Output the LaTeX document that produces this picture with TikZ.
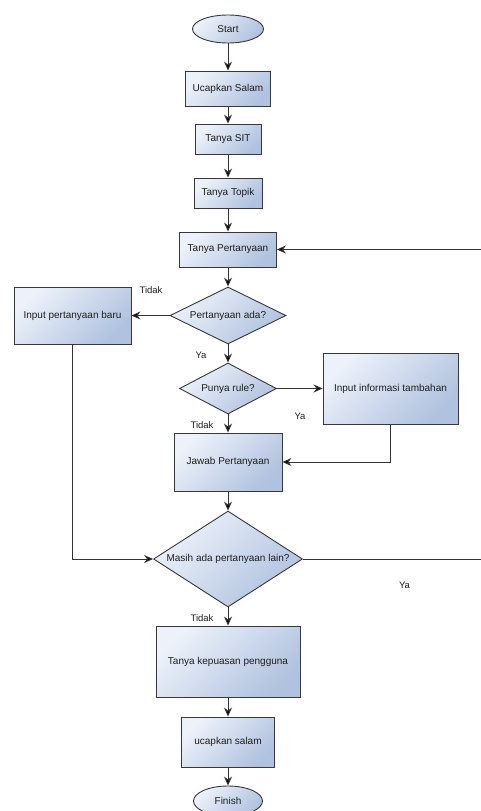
\documentclass[tikz,border=0pt]{standalone}
\usepackage{fontspec}
\setmainfont{Liberation Sans}
\usetikzlibrary{shapes.geometric,arrows.meta}
\definecolor{fillA}{HTML}{EDF2FA}
\definecolor{fillB}{HTML}{B0C2DF}
\definecolor{edge}{HTML}{383838}
\definecolor{wire}{HTML}{333333}
\definecolor{ink}{HTML}{1E1E1E}
\begin{document}
\begin{tikzpicture}[x=1pt,y=-1pt,
  every node/.style={font=\fontsize{10}{12}\selectfont, text=ink, inner sep=0pt},
  shaded/.style={draw=edge, line width=0.9pt, top color=fillA, bottom color=fillB, shading angle=45},
  procbox/.style={shaded, rectangle},
  decision/.style={shaded, diamond, aspect=1.8},
  term/.style={shaded, ellipse},
  lbl/.style={font=\fontsize{9.5}{11}\selectfont},
  arrow/.style={draw=wire, line width=0.9pt, -{Stealth[length=9pt,width=8pt,inset=3pt,fill=black]}}
]
\useasboundingbox (0,0) rectangle (480,811);
\fill[white] (0,0) rectangle (480,811);

\node[term, minimum width=71pt, minimum height=28pt] (start) at (228,29) {Start};
\node[procbox, minimum width=85pt, minimum height=35pt] (salam1) at (228,88.5) {Ucapkan Salam};
\node[procbox, minimum width=66pt, minimum height=30pt] (sit) at (228,139) {Tanya SIT};
\node[procbox, minimum width=68pt, minimum height=30pt] (topik) at (228,193) {Tanya Topik};
\node[procbox, minimum width=97pt, minimum height=35pt] (tanya) at (228,249.5) {Tanya Pertanyaan};
\node[decision, minimum width=116pt, minimum height=57pt] (ada) at (228,315.5) {Pertanyaan ada?};
\node[procbox, minimum width=117pt, minimum height=57pt] (baru) at (72.5,315.5) {Input pertanyaan baru};
\node[decision, minimum width=97pt, minimum height=51pt] (rule) at (228,388.5) {Punya rule?};
\node[procbox, minimum width=135pt, minimum height=71pt] (info) at (390.5,388.5) {Input informasi tambahan};
\node[procbox, minimum width=108pt, minimum height=58pt] (jawab) at (228,462) {Jawab Pertanyaan};
\node[decision, minimum width=149pt, minimum height=96pt] (masih) at (228,559) {Masih ada pertanyaan lain?};
\node[procbox, minimum width=144pt, minimum height=71pt] (puas) at (228,661.5) {Tanya kepuasan pengguna};
\node[procbox, minimum width=93pt, minimum height=50pt] (salam2) at (228,742) {ucapkan salam};
\node[term, minimum width=69pt, minimum height=30pt] (finish) at (228,801) {Finish};

\coordinate (loopR) at (487,559);

\draw[arrow] (start) -- (salam1);
\draw[arrow] (salam1) -- (sit);
\draw[arrow] (sit) -- (topik);
\draw[arrow] (topik) -- (tanya);
\draw[arrow] (tanya) -- (ada);
\draw[arrow] (ada) -- (rule);
\draw[arrow] (rule) -- (jawab);
\draw[arrow] (jawab) -- (masih);
\draw[arrow] (masih) -- (puas);
\draw[arrow] (puas) -- (salam2);
\draw[arrow] (salam2) -- (finish);
\draw[arrow] (ada.west) -- (baru.east);
\draw[arrow] (rule.east) -- (info.west);
\draw[arrow] (info.south) |- (jawab.east);
\draw[arrow] (baru.south) |- (masih.west);
\draw[arrow] (masih.east) -- (loopR) |- (tanya.east);

\node[lbl] (tidak1) at (151,290.5) {Tidak};
\node[lbl] (ya1) at (201,355.5) {Ya};
\node[lbl] (ya2) at (300,416) {Ya};
\node[lbl] (tidak2) at (202,425) {Tidak};
\node[lbl] (ya3) at (404.5,585.5) {Ya};
\node[lbl] (tidak3) at (202,618) {Tidak};
\end{tikzpicture}
\end{document}
